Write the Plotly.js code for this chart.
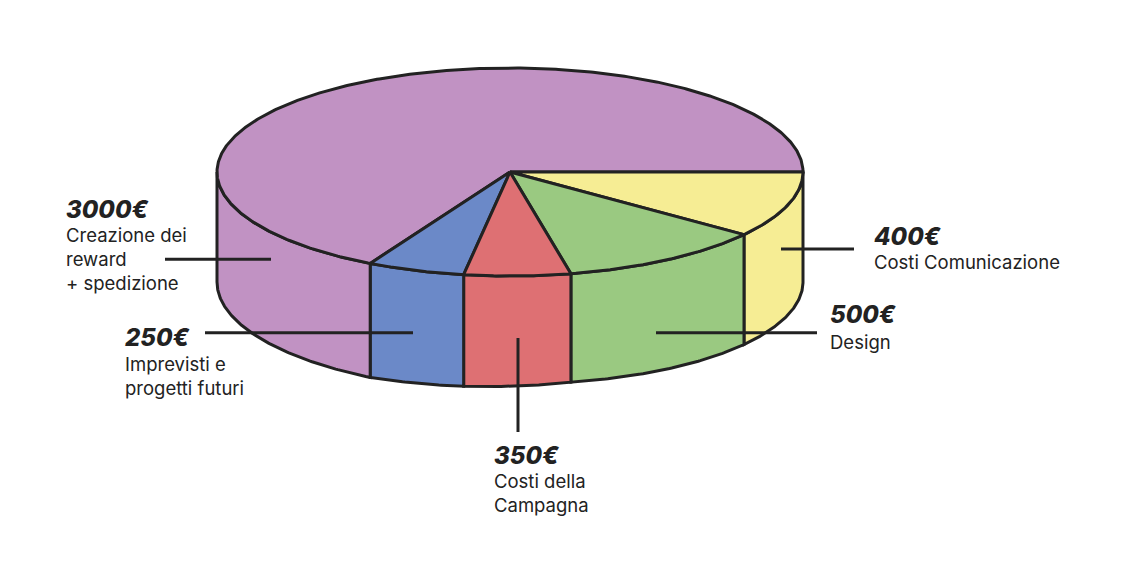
<!DOCTYPE html>
<html>
<head>
<meta charset="utf-8">
<script src="https://cdn.plot.ly/plotly-3.0.1.min.js"></script>
<style>html,body{margin:0;padding:0;background:#fff}#chart{width:1125px;height:566px}</style>
</head>
<body>
<div id="chart"></div>
<script>
// Data
const categories = ["Costi Comunicazione", "Design", "Costi della<br>Campagna", "Imprevisti e<br>progetti futuri", "Creazione dei<br>reward<br>+ spedizione"];
const amounts = [400, 500, 350, 250, 3000];
// Angular sweep of each slice on the top face, in degrees, as drawn in the picture
const sweepsDeg = [37, 41, 21.1, 19.4, 241.5];
// Wall height at each slice boundary in the front half, as drawn
const wallAngles = [0, 37, 78, 99.1, 118.5, 180];
const wallHeights = [110, 110, 108.5, 111.5, 114, 110];

const sliceColors = ["#F6ED94", "#9AC981", "#DE7073", "#6B89C8", "#C192C3"];
const ink = "#222222";
const cx = 510, cy = 172, rx = 293, ry = 104;
const lineWidth = 3;

function wall(deg) {
  for (let i = 0; i < wallAngles.length - 1; i++) {
    if (deg <= wallAngles[i + 1]) {
      const t = (deg - wallAngles[i]) / (wallAngles[i + 1] - wallAngles[i]);
      return wallHeights[i] + t * (wallHeights[i + 1] - wallHeights[i]);
    }
  }
  return wallHeights[wallHeights.length - 1];
}
const px = d => cx + rx * Math.cos(d * Math.PI / 180);
const py = d => cy + ry * Math.sin(d * Math.PI / 180);

function arc(a, b) {
  const n = Math.max(2, Math.ceil(Math.abs(b - a) * 2));
  const out = [];
  for (let i = 0; i <= n; i++) out.push(a + (b - a) * i / n);
  return out;
}
function shape(xs, ys, color) {
  return {
    type: "scatter", mode: "lines", x: xs, y: ys, fill: "toself", fillcolor: color,
    line: { color: ink, width: lineWidth, shape: "linear" }, hoverinfo: "skip", showlegend: false
  };
}

const traces = [];
let start = 0;
const tops = [];
sweepsDeg.forEach((sweep, i) => {
  const end = start + sweep;
  // wall: only the part in the front half of the disc is visible
  if (start < 180) {
    const wEnd = Math.min(end, 180);
    const topArc = arc(start, wEnd), botArc = arc(wEnd, start);
    traces.push(shape(
      topArc.map(px).concat(botArc.map(px), [px(start)]),
      topArc.map(py).concat(botArc.map(d => py(d) + wall(d)), [py(start)]),
      sliceColors[i]
    ));
  }
  const a = arc(start, end);
  tops.push(shape([cx].concat(a.map(px), [cx]), [cy].concat(a.map(py), [cy]), sliceColors[i]));
  start = end;
});
// purple top drawn first so that the front slices sit over its edges
traces.push(tops[4], tops[0], tops[1], tops[3], tops[2]);

// Leader lines: [x0, y0, x1, y1] per slice
const leaders = [[781, 249, 854, 249], [656, 332.7, 817, 332.7], [518, 338, 518, 432], [205, 332.7, 413, 332.7], [165, 259.3, 271, 259.3]];
const shapes = leaders.map(l => ({
  type: "line", xref: "x", yref: "y", x0: l[0], y0: l[1], x1: l[2], y1: l[3],
  line: { color: ink, width: lineWidth }
}));

// Label anchors: [x, y of amount, y of first name line]
const labelPos = [[872, 236, 262], [828, 314, 342], [492, 455, 481], [123, 337, 364], [64, 209, 235]];
const annotations = [];
const FONT = "Inter, 'Liberation Sans', sans-serif";
amounts.forEach((v, i) => {
  annotations.push({
    x: labelPos[i][0], y: labelPos[i][1], xref: "x", yref: "y", xanchor: "left", yanchor: "middle",
    showarrow: false, align: "left", text: v + "€",
    font: { family: FONT, size: 24, color: ink, weight: 800, style: "italic" }
  });
  annotations.push({
    x: labelPos[i][0], y: labelPos[i][2] - 13, xref: "x", yref: "y", xanchor: "left", yanchor: "top",
    showarrow: false, align: "left", text: categories[i],
    font: { family: FONT, size: 18.5, color: ink }
  });
});

const layout = {
  width: 1125, height: 566, margin: { l: 0, r: 0, t: 0, b: 0 },
  paper_bgcolor: "#ffffff", plot_bgcolor: "#ffffff", showlegend: false,
  xaxis: { range: [0, 1125], visible: false, fixedrange: true },
  yaxis: { range: [566, 0], visible: false, fixedrange: true },
  shapes, annotations
};
Plotly.newPlot("chart", traces, layout, { displayModeBar: false, staticPlot: true });
</script>
</body>
</html>
